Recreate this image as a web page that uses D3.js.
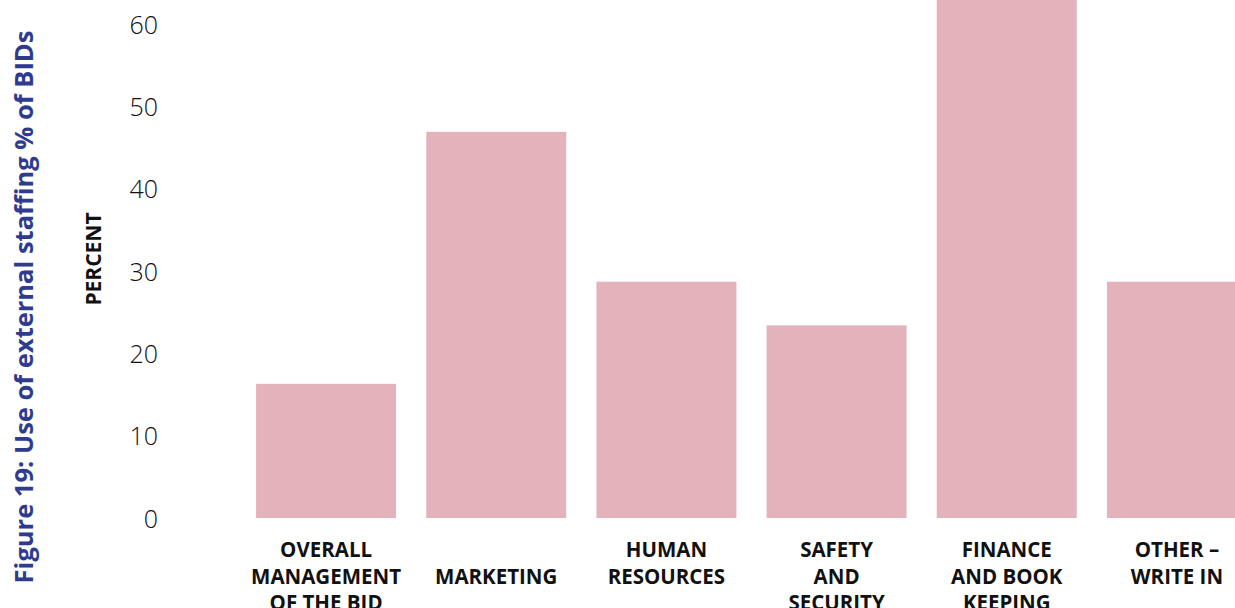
<!DOCTYPE html>
<html>
<head>
<meta charset="utf-8">
<script src="https://cdn.jsdelivr.net/npm/d3@7"></script>
<style>
  html, body { margin: 0; padding: 0; background: #ffffff; overflow: hidden; }
  svg { display: block; }
</style>
</head>
<body>
<svg id="chart" width="1235" height="608"></svg>
<script>
// Share of BIDs using external staff, by function (percent)
const categories = [
  "Overall management of the BID",
  "Marketing",
  "Human resources",
  "Safety and security",
  "Finance and book keeping",
  "Other - write in"
];
const labelLines = [
  ["OVERALL", "MANAGEMENT", "OF THE BID"],
  ["", "MARKETING"],
  ["HUMAN", "RESOURCES"],
  ["SAFETY", "AND", "SECURITY"],
  ["FINANCE", "AND BOOK", "KEEPING"],
  ["OTHER \u2013", "WRITE IN"]
];
const values = [16.3, 46.9, 28.7, 23.4, 65.6, 28.7];
const yTicks = [0, 10, 20, 30, 40, 50, 60];

const title = "Figure 19: Use of external staffing % of BIDs";
const yLabel = "PERCENT";

const svg = d3.select("#chart");

const x = d3.scaleBand()
  .domain(categories)
  .range([241, 1262])
  .paddingInner(0.1775)
  .paddingOuter(0.0887);

const y = d3.scaleLinear()
  .domain([0, 60])
  .range([518, 24]);

// bars
svg.append("g")
  .selectAll("rect")
  .data(values)
  .join("rect")
  .attr("x", (d, i) => x(categories[i]))
  .attr("y", d => y(d))
  .attr("width", x.bandwidth())
  .attr("height", d => y(0) - y(d))
  .attr("fill", "#e4b2ba");

// value axis: labels only, no line or tick marks
const yAxis = svg.append("g")
  .attr("transform", "translate(158,0)")
  .call(d3.axisLeft(y).tickValues(yTicks).tickSize(0).tickPadding(0).tickFormat(d3.format("d")));
yAxis.select(".domain").remove();
yAxis.selectAll("text")
  .attr("font-family", "'Open Sans', sans-serif")
  .attr("font-weight", 300)
  .attr("font-size", 25)
  .attr("fill", "#111")
  .attr("dy", "0.36em");

// category labels
const xl = svg.append("g")
  .selectAll("text")
  .data(categories)
  .join("text")
  .attr("text-anchor", "middle")
  .attr("font-family", "'Open Sans', sans-serif")
  .attr("font-weight", 700)
  .attr("font-size", 20.5)
  .attr("fill", "#111");
xl.each(function (c, i) {
  const cx = x(c) + x.bandwidth() / 2;
  d3.select(this).selectAll("tspan")
    .data(labelLines[i])
    .join("tspan")
    .attr("x", cx)
    .attr("y", (d, k) => 557 + k * 26.5)
    .text(d => d);
});

// axis title
svg.append("text")
  .attr("transform", "translate(101,259) rotate(-90)")
  .attr("text-anchor", "middle")
  .attr("font-family", "'Open Sans', sans-serif")
  .attr("font-weight", 700)
  .attr("font-size", 21)
  .attr("fill", "#111")
  .text(yLabel);

// figure title, running up the left edge
svg.append("text")
  .attr("transform", "translate(33,307) rotate(-90)")
  .attr("text-anchor", "middle")
  .attr("font-family", "'Open Sans', sans-serif")
  .attr("font-weight", 700)
  .attr("font-size", 25.5)
  .attr("fill", "#2e3b8e")
  .text(title);
</script>
</body>
</html>
